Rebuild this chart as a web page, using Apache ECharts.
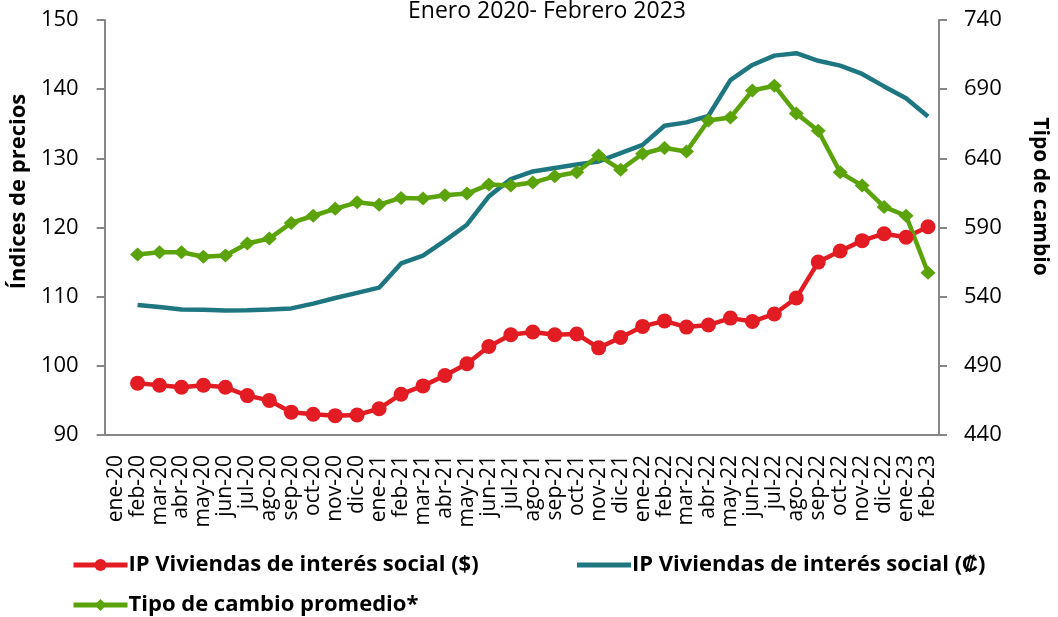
<!DOCTYPE html>
<html>
<head>
<meta charset="utf-8">
<script src="https://cdn.jsdelivr.net/npm/echarts@6/dist/echarts.min.js"></script>
<style>
  html, body { margin: 0; padding: 0; background: #fff; }
  #chart { width: 1058px; height: 617px; }
</style>
</head>
<body>
<div id="chart"></div>
<script>
// meses (ene-20 sin dato)
var meses = ['ene-20','feb-20','mar-20','abr-20','may-20','jun-20','jul-20','ago-20','sep-20','oct-20','nov-20','dic-20',
  'ene-21','feb-21','mar-21','abr-21','may-21','jun-21','jul-21','ago-21','sep-21','oct-21','nov-21','dic-21',
  'ene-22','feb-22','mar-22','abr-22','may-22','jun-22','jul-22','ago-22','sep-22','oct-22','nov-22','dic-22',
  'ene-23','feb-23'];

// IP viviendas de interés social en dólares
var ipDolares = [null, 97.5, 97.2, 96.9, 97.2, 96.9, 95.7, 95.0, 93.3, 93.0, 92.8, 92.9,
  93.8, 95.9, 97.1, 98.6, 100.3, 102.8, 104.5, 104.9, 104.5, 104.6, 102.6, 104.1,
  105.7, 106.5, 105.6, 105.9, 106.9, 106.4, 107.5, 109.8, 115.0, 116.6, 118.1, 119.1,
  118.6, 120.1];

// IP viviendas de interés social en colones
var ipColones = [null, 108.8, 108.5, 108.15, 108.1, 108.0, 108.05, 108.15, 108.3, 109.0, 109.8, 110.55,
  111.3, 114.8, 115.95, 118.1, 120.4, 124.5, 127.0, 128.1, 128.6, 129.1, 129.55, 130.75,
  131.95, 134.7, 135.2, 136.15, 141.3, 143.5, 144.85, 145.2, 144.1, 143.4, 142.2, 140.4,
  138.7, 136.05];

// tipo de cambio promedio (eje derecho)
var tipoCambio = [null, 570.5, 572.1, 572.1, 568.8, 569.8, 578.4, 582.0, 593.3, 598.5, 603.5, 608.2,
  606.5, 611.4, 610.9, 613.3, 614.5, 621.0, 620.4, 622.5, 627.0, 629.9, 642.0, 631.8,
  643.3, 647.5, 645.0, 667.4, 669.5, 689.0, 692.5, 672.5, 659.9, 629.9, 620.3, 604.9,
  598.5, 557.3];

var fuente = '"Open Sans", sans-serif';
var gris = '#878787';
var rojo = '#E31B23', azul = '#1E7780', verde = '#5BA30B';

var textoLeyenda = { fontFamily: fuente, fontSize: 22, fontWeight: 'bold', color: '#000', padding: [0, 0, 0, -4] };

var myChart = echarts.init(document.getElementById('chart'));

var option = {
    animation: false,
    title: {
        text: 'Enero 2020- Febrero 2023',
        left: 403,
        top: -5,
        textStyle: { fontFamily: fuente, fontSize: 23, fontWeight: 'normal', color: '#000' }
    },
    grid: { left: 102, right: 105, top: 20, bottom: 182 },
    legend: [
        {
            data: ['IP Viviendas de interés social ($)'],
            left: 66, top: 549,
            itemWidth: 54, itemHeight: 15,
            lineStyle: { width: 5 },
            textStyle: textoLeyenda
        },
        {
            data: [{ name: 'IP Viviendas de interés social (₡)', icon: 'rect' }],
            left: 572, top: 549,
            itemWidth: 54, itemHeight: 5,
            textStyle: textoLeyenda
        },
        {
            data: ['Tipo de cambio promedio*'],
            left: 66, top: 589,
            itemWidth: 54, itemHeight: 15,
            lineStyle: { width: 5 },
            textStyle: textoLeyenda
        }
    ],
    xAxis: {
        type: 'category',
        data: meses,
        axisLine: { lineStyle: { color: gris, width: 2 } },
        axisTick: { length: 6, lineStyle: { color: gris, width: 2 } },
        axisLabel: { interval: 0, rotate: 90, margin: 20, fontFamily: fuente, fontSize: 21, color: '#000' }
    },
    yAxis: [
        {
            type: 'value',
            min: 90, max: 150, interval: 10,
            name: 'Índices de precios',
            nameLocation: 'middle',
            nameGap: 57,
            nameRotate: 90,
            nameTextStyle: { fontFamily: fuente, fontSize: 22, fontWeight: 'bold', color: '#000', padding: [0, 0, 0, 72] },
            axisLine: { show: true, lineStyle: { color: gris, width: 2 } },
            axisTick: { show: true, length: 8, lineStyle: { color: gris, width: 2 } },
            axisLabel: { margin: 26, fontFamily: fuente, fontSize: 22, color: '#000' },
            splitLine: { show: false }
        },
        {
            type: 'value',
            min: 440, max: 740, interval: 50,
            position: 'right',
            name: 'Tipo de cambio',
            nameLocation: 'middle',
            nameGap: 90,
            nameRotate: -90,
            nameTextStyle: { fontFamily: fuente, fontSize: 21, fontWeight: 'bold', color: '#000', padding: [0, 62, 0, 0] },
            axisLine: { show: true, lineStyle: { color: gris, width: 2 } },
            axisTick: { show: true, length: 8, lineStyle: { color: gris, width: 2 } },
            axisLabel: { margin: 25, fontFamily: fuente, fontSize: 22, color: '#000' },
            splitLine: { show: false }
        }
    ],
    series: [
        {
            name: 'IP Viviendas de interés social ($)',
            type: 'line',
            data: ipDolares,
            yAxisIndex: 0,
            symbol: 'circle',
            symbolSize: 15,
            color: rojo,
            lineStyle: { width: 4.5 }
        },
        {
            name: 'IP Viviendas de interés social (₡)',
            type: 'line',
            data: ipColones,
            yAxisIndex: 0,
            symbol: 'none',
            color: azul,
            lineStyle: { width: 4.5 }
        },
        {
            name: 'Tipo de cambio promedio*',
            type: 'line',
            data: tipoCambio,
            yAxisIndex: 1,
            symbol: 'diamond',
            symbolSize: [15, 14],
            color: verde,
            lineStyle: { width: 4.5 }
        }
    ]
};

myChart.setOption(option);
</script>
</body>
</html>
